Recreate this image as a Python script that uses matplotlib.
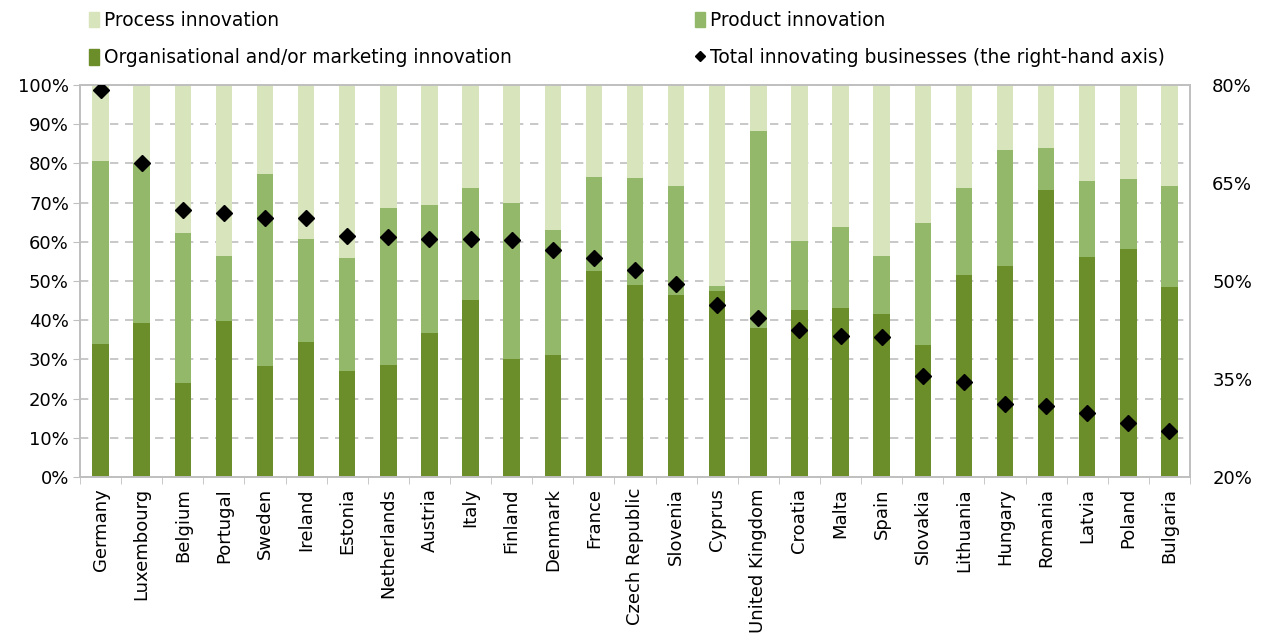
import matplotlib
matplotlib.use("Agg")
import matplotlib.pyplot as plt
import numpy as np
from matplotlib.patches import Patch
from matplotlib.lines import Line2D

countries = ["Germany", "Luxembourg", "Belgium", "Portugal", "Sweden", "Ireland", "Estonia",
             "Netherlands", "Austria", "Italy", "Finland", "Denmark", "France", "Czech Republic",
             "Slovenia", "Cyprus", "United Kingdom", "Croatia", "Malta", "Spain", "Slovakia",
             "Lithuania", "Hungary", "Romania", "Latvia", "Poland", "Bulgaria"]

# share of organisational and/or marketing innovation (%)
organisational = [34.0, 39.3, 24.0, 39.8, 28.3, 34.4, 27.0, 28.5, 36.7, 45.1, 30.1, 31.1, 52.6, 48.9,
                  46.4, 47.4, 38.1, 42.6, 43.2, 41.5, 33.7, 51.5, 53.7, 73.2, 56.2, 58.1, 48.4]
# share of product innovation (%)
product = [46.5, 40.7, 38.2, 16.6, 49.1, 26.2, 28.9, 40.2, 32.6, 28.6, 39.9, 31.8, 24.0, 27.3,
           27.9, 1.2, 50.1, 17.7, 20.5, 14.8, 31.1, 22.2, 29.8, 10.7, 19.3, 17.9, 25.9]
# share of process innovation (%)
process = [19.5, 20.0, 37.8, 43.6, 22.6, 39.4, 44.1, 31.3, 30.7, 26.3, 30.0, 37.1, 23.4, 23.8,
           25.7, 51.4, 11.8, 39.7, 36.3, 43.7, 35.2, 26.3, 16.5, 16.1, 24.5, 24.0, 25.7]
# total innovating businesses (%), right-hand axis
total = [79.3, 68.1, 60.9, 60.4, 59.6, 59.6, 56.9, 56.8, 56.5, 56.4, 56.3, 54.8, 53.5, 51.7,
         49.5, 46.3, 44.3, 42.5, 41.6, 41.4, 35.5, 34.5, 31.1, 30.9, 29.8, 28.2, 27.1]

c_org = "#6B8E2A"
c_prod = "#93B86A"
c_proc = "#D8E4BC"
grey = "#BFBFBF"

plt.rcParams["font.family"] = ["DejaVu Sans"]
fs = 13

fig = plt.figure(figsize=(12.67, 6.41), dpi=100)
ax = fig.add_axes([80 / 1267, 1 - 477 / 641, (1190 - 80) / 1267, (477 - 85) / 641])

x = np.arange(len(countries))
org = np.array(organisational)
prod = np.array(product)
proc = np.array(process)
w = 0.4
ax.bar(x, org, w, color=c_org, zorder=2)
ax.bar(x, prod, w, bottom=org, color=c_prod, zorder=2)
ax.bar(x, proc, w, bottom=org + prod, color=c_proc, zorder=2)

ax.set_xlim(-0.5, len(countries) - 0.5)
ax.set_ylim(0, 100)
ax.set_yticks(np.arange(0, 101, 10))
ax.set_yticklabels([f"{v}%" for v in range(0, 101, 10)], fontsize=fs)
ax.yaxis.grid(True, color=grey, linestyle=(0, (5, 4)), linewidth=1.2, zorder=0)
ax.set_xticks(x)
ax.set_xticklabels(countries, rotation=90, fontsize=fs)
ax.tick_params(axis="x", length=0, pad=8)
ax.set_xticks(np.arange(-0.5, len(countries), 1), minor=True)
ax.tick_params(axis="x", which="minor", length=5, color=grey)
ax.tick_params(axis="y", length=5, color=grey, pad=3)
for s in ax.spines.values():
    s.set_color(grey)
    s.set_linewidth(1.2)

ax2 = ax.twinx()
ax2.plot(x, total, linestyle="none", marker="D", color="black", markersize=8, zorder=5)
ax2.set_ylim(20, 80)
ax2.set_yticks([20, 35, 50, 65, 80])
ax2.set_yticklabels(["20%", "35%", "50%", "65%", "80%"], fontsize=fs)
ax2.tick_params(axis="y", length=0, pad=16)
for s in ax2.spines.values():
    s.set_color(grey)
    s.set_linewidth(1.2)

h_proc = Patch(color=c_proc)
h_prod = Patch(color=c_prod)
h_org = Patch(color=c_org)
h_tot = Line2D([], [], linestyle="none", marker="D", color="black", markersize=5)

lfs = 13.4
fig.legend([h_proc, h_org], ["Process innovation", "Organisational and/or marketing innovation"],
           loc="upper left", bbox_to_anchor=(72 / 1267, 1.009), frameon=False, fontsize=lfs,
           handlelength=0.55, handleheight=0.9, handletextpad=0.25, labelspacing=0.98)
fig.legend([h_prod, h_tot], ["Product innovation", "Total innovating businesses (the right-hand axis)"],
           loc="upper left", bbox_to_anchor=(678 / 1267, 1.009), frameon=False, fontsize=lfs,
           handlelength=0.55, handleheight=0.9, handletextpad=0.25, labelspacing=0.98)

fig.savefig("out.png", dpi=100)
